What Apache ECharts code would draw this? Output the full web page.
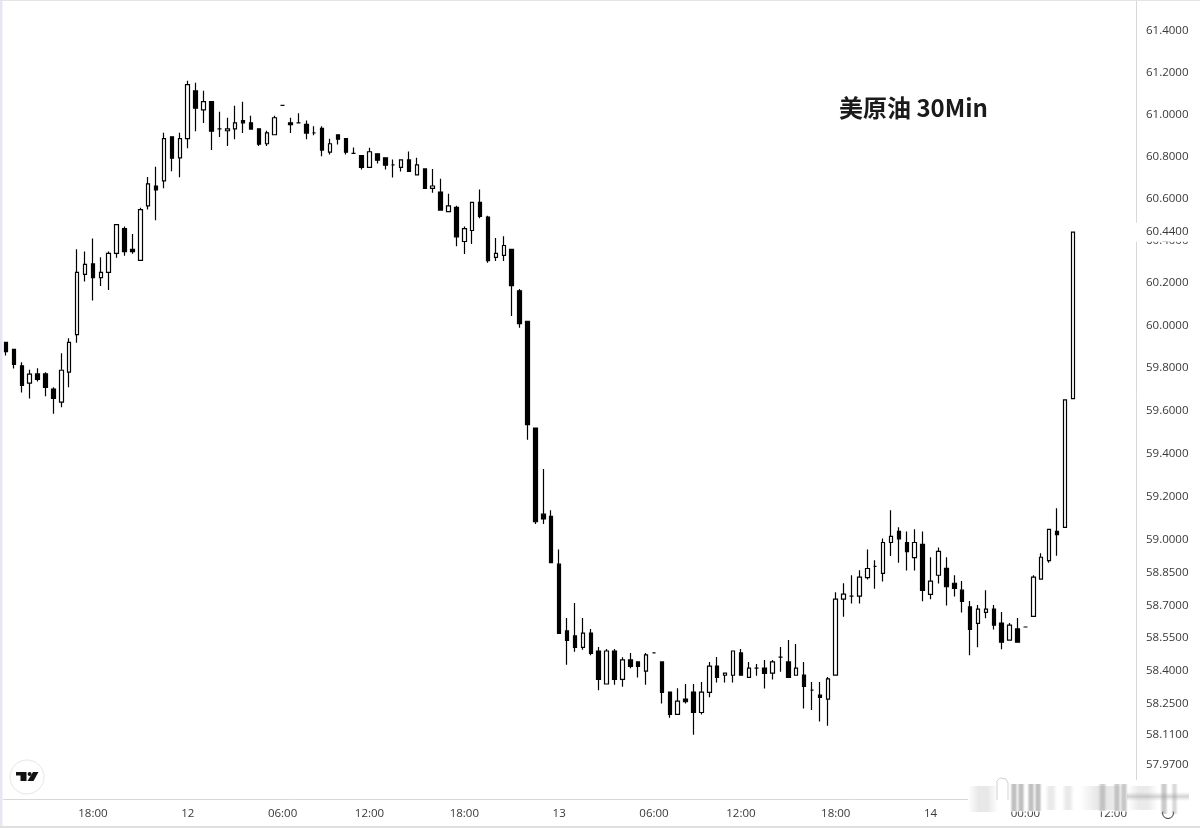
<!DOCTYPE html>
<html>
<head>
<meta charset="utf-8">
<style>html,body{margin:0;padding:0;background:#fff}#c{width:1200px;height:828px}</style>
<script src="https://cdn.jsdelivr.net/npm/echarts@6/dist/echarts.min.js"></script>
</head>
<body>
<div id="c"></div>
<script>
// [open, close, low, high]
const ohlc = [
[59.921,59.877,59.859,59.921],[59.888,59.817,59.798,59.888],[59.811,59.719,59.686,59.828],[59.730,59.772,59.658,59.792],
[59.773,59.747,59.738,59.800],[59.773,59.710,59.668,59.781],[59.702,59.658,59.587,59.711],[59.641,59.790,59.617,59.870],
[59.781,59.921,59.710,59.940],[59.957,60.250,59.919,60.359],[60.241,60.288,60.207,60.349],[60.290,60.225,60.117,60.410],
[60.225,60.250,60.186,60.321],[60.250,60.340,60.167,60.349],[60.340,60.476,60.319,60.476],[60.457,60.348,60.329,60.467],
[60.359,60.348,60.338,60.431],[60.307,60.547,60.307,60.556],[60.565,60.669,60.547,60.702],[60.659,60.640,60.496,60.750],
[60.683,60.884,60.648,60.912],[60.893,60.791,60.729,60.893],[60.793,60.884,60.701,60.912],[60.884,61.142,60.839,61.161],
[61.113,61.030,60.920,61.151],[61.022,61.061,60.959,61.113],[61.061,60.920,60.830,61.061],[60.931,60.931,60.892,61.013],
[60.922,60.931,60.849,60.984],[60.931,60.960,60.882,61.041],[60.970,60.960,60.911,61.061],[60.960,60.930,60.930,60.994],
[60.931,60.858,60.849,60.931],[60.860,60.912,60.849,60.922],[60.903,60.984,60.903,60.994],[61.043,61.043,61.043,61.043],
[60.960,60.951,60.911,60.984],[60.960,60.960,60.960,61.005],[60.952,60.911,60.881,60.971],[60.912,60.912,60.900,60.943],
[60.933,60.830,60.801,60.943],[60.820,60.860,60.809,60.884],[60.903,60.882,60.857,60.903],[60.884,60.820,60.809,60.884],
[60.814,60.814,60.814,60.842],[60.804,60.748,60.737,60.804],[60.748,60.822,60.748,60.841],[60.812,60.782,60.766,60.812],
[60.793,60.758,60.737,60.793],[60.759,60.759,60.699,60.785],[60.748,60.783,60.728,60.783],[60.783,60.729,60.729,60.823],
[60.712,60.759,60.712,60.793],[60.740,60.648,60.648,60.740],[60.648,60.659,60.627,60.740],[60.630,60.545,60.545,60.694],
[60.537,60.565,60.537,60.622],[60.558,60.418,60.374,60.565],[60.396,60.457,60.337,60.467],[60.448,60.581,60.384,60.581],
[60.581,60.515,60.506,60.642],[60.511,60.305,60.296,60.518],[60.321,60.340,60.304,60.412],[60.330,60.377,60.304,60.421],
[60.359,60.188,60.045,60.359],[60.163,60.009,59.989,60.172],[60.020,59.536,59.466,60.020],[59.520,59.085,59.075,59.520],
[59.120,59.098,59.075,59.329],[59.110,58.896,58.896,59.138],[58.889,58.571,58.571,58.957],[58.582,58.539,58.427,58.641],
[58.559,58.507,58.487,58.710],[58.507,58.572,58.496,58.641],[58.572,58.479,58.470,58.591],[58.490,58.360,58.310,58.508],
[58.339,58.490,58.339,58.499],[58.490,58.360,58.336,58.499],[58.360,58.449,58.327,58.461],[58.449,58.420,58.411,58.481],
[58.440,58.420,58.369,58.440],[58.398,58.472,58.336,58.481],[58.481,58.481,58.481,58.481],[58.440,58.301,58.250,58.440],
[58.302,58.200,58.185,58.302],[58.200,58.261,58.200,58.320],[58.270,58.258,58.250,58.339],[58.302,58.209,58.108,58.339],
[58.209,58.302,58.200,58.348],[58.301,58.421,58.278,58.440],[58.421,58.369,58.346,58.462],[58.379,58.389,58.346,58.389],
[58.379,58.490,58.346,58.490],[58.481,58.379,58.379,58.499],[58.369,58.412,58.369,58.440],[58.412,58.412,58.377,58.430],
[58.412,58.388,58.319,58.449],[58.389,58.440,58.359,58.449],[58.462,58.462,58.395,58.508],[58.440,58.369,58.369,58.540],
[58.379,58.412,58.379,58.522],[58.380,58.328,58.227,58.440],[58.311,58.311,58.220,58.348],[58.288,58.278,58.168,58.348],
[58.270,58.362,58.149,58.371],[58.380,58.728,58.380,58.760],[58.728,58.751,58.647,58.801],[58.742,58.742,58.708,58.838],
[58.742,58.829,58.708,58.861],[58.827,58.869,58.818,58.957],[58.879,58.879,58.776,58.907],[58.847,58.989,58.809,59.008],
[58.989,59.017,58.927,59.138],[59.040,59.006,58.896,59.059],[58.989,58.947,58.860,59.040],[58.919,58.989,58.860,59.050],
[58.980,58.768,58.718,59.040],[58.750,58.811,58.727,58.921],[58.838,58.948,58.800,58.966],[58.870,58.786,58.699,58.921],
[58.801,58.777,58.740,58.838],[58.769,58.718,58.667,58.811],[58.692,58.589,58.470,58.719],[58.617,58.682,58.507,58.701],
[58.667,58.682,58.640,58.769],[58.682,58.608,58.589,58.701],[58.618,58.530,58.498,58.669],[58.540,58.609,58.540,58.618],
[58.591,58.530,58.530,58.641],[58.600,58.600,58.600,58.600],[58.649,58.829,58.649,58.838],[58.820,58.921,58.820,58.939],
[58.905,59.050,58.896,59.050],[59.040,59.025,58.928,59.148],[59.059,59.652,59.059,59.652],[59.657,60.440,59.657,60.440]
];
const slotCount = 144;
const timeTickIndex = [11,23,35,46,58,70,82,93,105,117,129,140];
const timeTickLabels = ['18:00','12','06:00','12:00','18:00','13','06:00','12:00','18:00','14','00:00','12:00'];
const priceTicks = [61.4,61.2,61.0,60.8,60.6,60.4,60.2,60.0,59.8,59.6,59.4,59.2,59.0,58.85,58.7,58.55,58.4,58.25,58.11,57.97,57.83];
const lastPrice = [60.44];
const chartTitle = '美原油 30Min';

const categories = [];
for (let i = 0; i < slotCount; i++) {
  const k = timeTickIndex.indexOf(i);
  categories.push(k >= 0 ? timeTickLabels[k] : '');
}
const labelFont = '"Open Sans", sans-serif';
const labelColor = '#383838';
const axisMin = 57.816, axisMax = 61.549;

function soft(x, y, w, h, op, vertical) {
  const c = 'rgba(150,150,150,';
  const stops = vertical
    ? [{offset:0,color:c+'0)'},{offset:0.5,color:c+op+')'},{offset:1,color:c+'0)'}]
    : [{offset:0,color:c+'0)'},{offset:0.35,color:c+op+')'},{offset:0.65,color:c+op+')'},{offset:1,color:c+'0)'}];
  return {type:'rect',silent:true,z:12,shape:{x,y,width:w,height:h},
    style:{fill:{type:'linear',x:0,y:0,x2:vertical?0:1,y2:vertical?1:0,colorStops:stops}}};
}

const chart = echarts.init(document.getElementById('c'), null, {renderer:'canvas'});
chart.setOption({
  animation:false,
  backgroundColor:'#ffffff',
  title:{text:chartTitle,left:834,top:91,textStyle:{fontFamily:'"Noto Sans CJK SC", sans-serif',fontSize:24,fontWeight:'bold',color:'#1a1a1a'}},
  grid:{left:6,top:0,width:1130,height:799,containLabel:false},
  xAxis:{type:'category',data:categories,boundaryGap:false,
    axisLine:{show:true,lineStyle:{color:'#d8d8d8',width:1}},axisTick:{show:false},splitLine:{show:false},
    axisLabel:{interval:0,margin:9,fontFamily:labelFont,fontSize:11.5,color:labelColor,hideOverlap:false}},
  yAxis:[
    {type:'log',min:axisMin,max:axisMax,position:'right',scale:true,
     axisLine:{show:true,lineStyle:{color:'#d8d8d8',width:1}},axisTick:{show:false},splitLine:{show:false},minorTick:{show:false},minorSplitLine:{show:false},
     axisLabel:{customValues:priceTicks,margin:10,padding:[4,0,0,0],fontFamily:labelFont,fontSize:11.5,color:labelColor,formatter:v=>Number(v).toFixed(4),showMinLabel:true,showMaxLabel:true}},
    {type:'log',min:axisMin,max:axisMax,position:'right',scale:true,z:5,
     axisLine:{show:false},axisTick:{show:false},splitLine:{show:false},
     axisLabel:{customValues:lastPrice,margin:-1,padding:[6,6,1,11],backgroundColor:'#ffffff',fontFamily:labelFont,fontSize:11.5,color:labelColor,formatter:v=>Number(v).toFixed(4)}}
  ],
  series:[{type:'candlestick',data:ohlc,barWidth:4,clip:false,
    itemStyle:{color:'#ffffff',color0:'#000000',borderColor:'#000000',borderColor0:'#000000',borderWidth:1.2}}],
  graphic:{elements:[
    {type:'rect',silent:true,z:10,shape:{x:0,y:0,width:2.5,height:828},style:{fill:'#e6e6f5'}},
    {type:'rect',silent:true,z:10,shape:{x:0,y:0,width:1200,height:1},style:{fill:'#e4e4e4'}},
    {type:'rect',silent:true,z:10,shape:{x:0,y:826,width:1200,height:2},style:{fill:'#e0e0e0'}},
    {type:'rect',silent:true,z:10,shape:{x:3,y:799,width:3,height:1},style:{fill:'#d8d8d8'}},
    // TradingView badge
    {type:'circle',silent:true,z:10,shape:{cx:27,cy:777,r:17},style:{fill:'#ffffff',stroke:'#e6e6e6',lineWidth:1}},
    {type:'polygon',silent:true,z:11,shape:{points:[[16,772],[26.5,772],[26.5,781],[20.5,781],[20.5,775.5],[16,775.5]]},style:{fill:'#131313'}},
    {type:'circle',silent:true,z:11,shape:{cx:29.6,cy:774,r:2},style:{fill:'#131313'}},
    {type:'polygon',silent:true,z:11,shape:{points:[[33,772],[38.5,772],[33.5,781],[27.5,781]]},style:{fill:'#131313'}},
    // gear
    {type:'circle',silent:true,z:10,shape:{cx:1168,cy:813,r:5.5},style:{fill:'none',stroke:'#333',lineWidth:1}},
    // smudged watermark
    {type:'rect',silent:true,z:11,shape:{x:968,y:780,width:222,height:31.5},style:{fill:'#ffffff'}},
    soft(1127,792,62,9,0.4,true),
    soft(1080,786,48,24,0.22,false),
    soft(1128,786,30,24,0.2,false),
    soft(968,786,30,26,0.22,false),
    soft(1045,786,12,24,0.2,false),
    soft(1062,786,12,24,0.2,false),
    soft(1010,784,8,27,0.6,false),
    soft(1017,784,8,27,0.6,false),
    soft(1027,784,8,27,0.6,false),
    soft(1034,784,8,27,0.6,false),
    soft(1098,784,9,27,0.45,false),
    soft(1113,784,8,27,0.5,false),
    soft(1120,784,8,27,0.5,false),
    soft(1160,784,8,30,0.5,false),
    soft(1171,784,7,30,0.35,false),
    {type:'polyline',silent:true,z:12,shape:{points:[[997,800],[997,781],[1000,778],[1006,779],[1008,783],[1008,800]]},style:{fill:'none',stroke:'#d2d2d2',lineWidth:1}}
  ]}
});
</script>
</body>
</html>
